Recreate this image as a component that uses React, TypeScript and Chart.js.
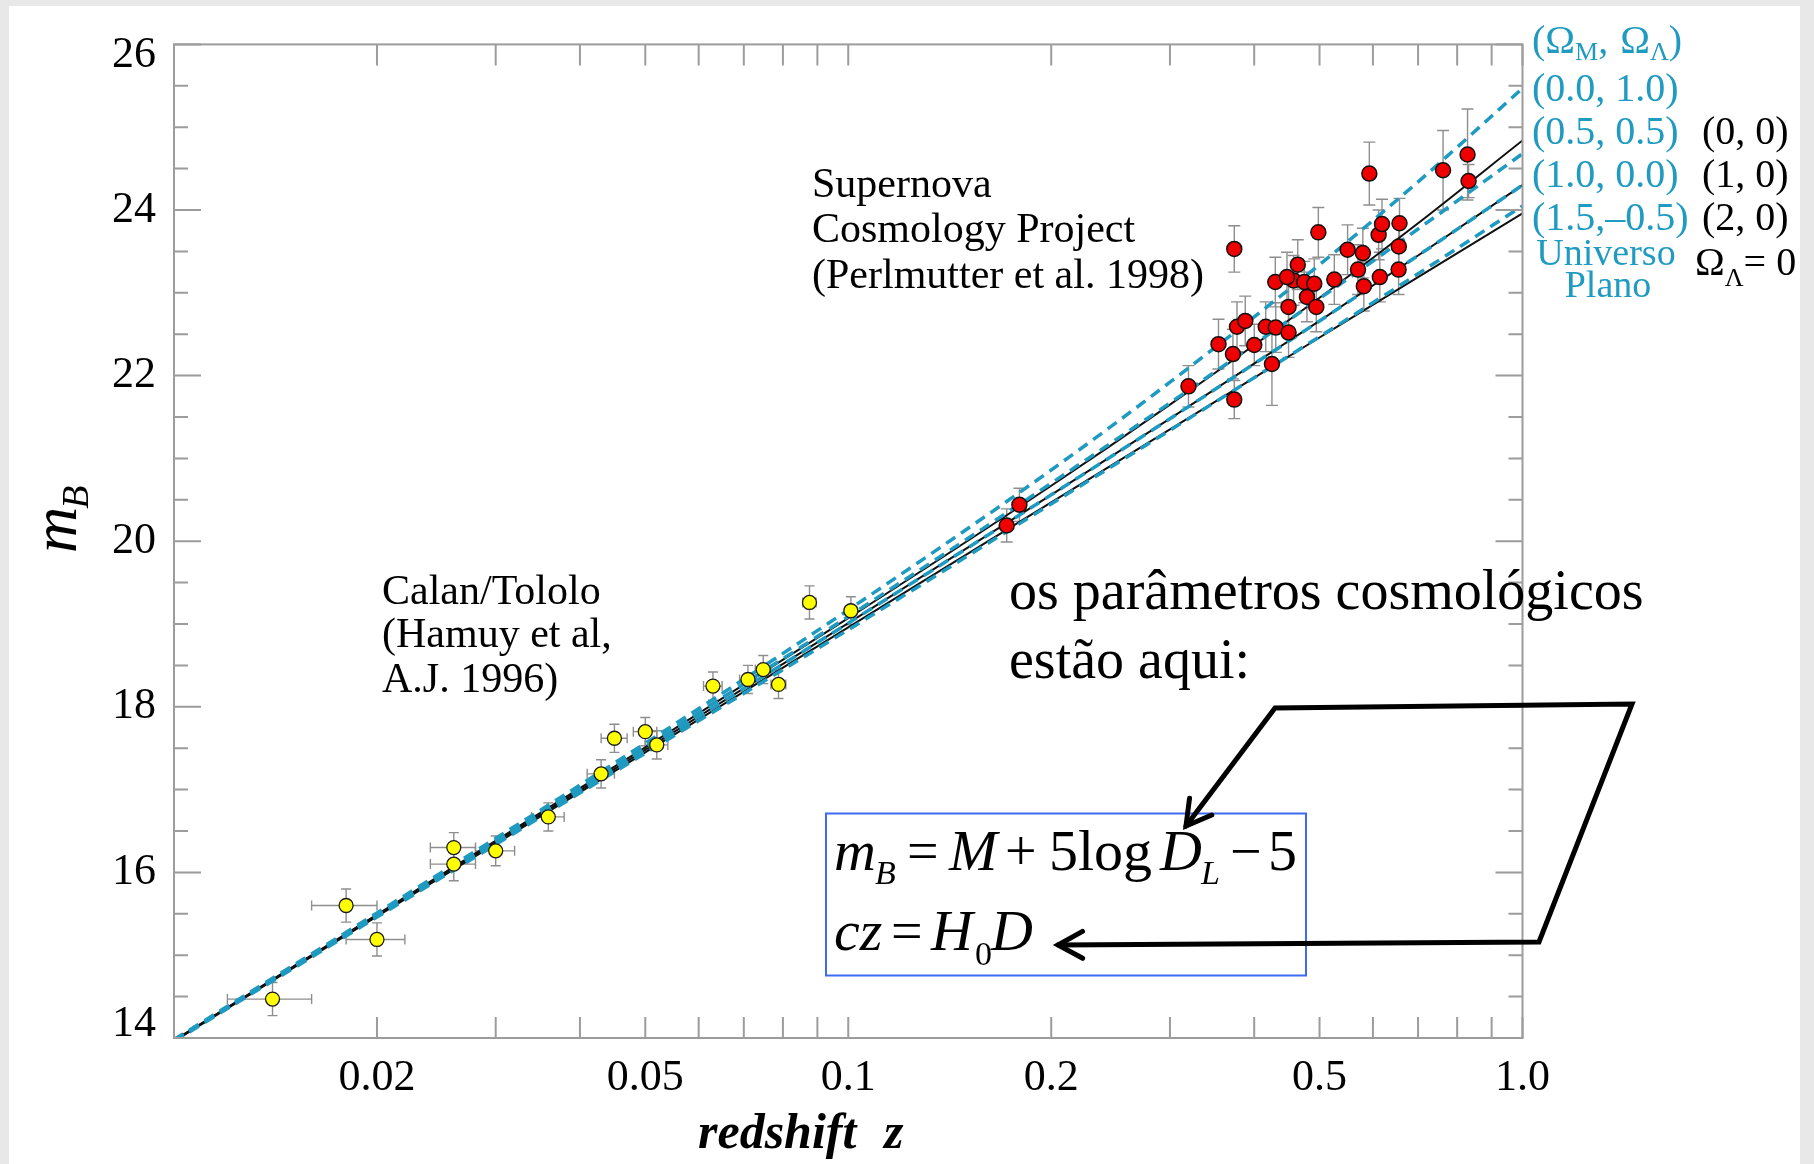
import React, { useEffect, useRef } from 'react';
import { Chart, registerables } from 'chart.js';

Chart.register(...registerables);

// ---------------- data ----------------
const modelZ = [0.01, 0.02, 0.05, 0.1, 0.2, 0.3, 0.5, 0.7, 1.0];
// flat universes (cyan dashed)
const mFlat_0_1 = [13.98, 15.51, 17.56, 19.17, 20.86, 21.92, 23.34, 24.34, 25.47];
const mFlat_05_05 = [13.97, 15.49, 17.52, 19.09, 20.7, 21.67, 22.93, 23.77, 24.68];
const mFlat_1_0 = [13.97, 15.48, 17.48, 19.01, 20.56, 21.48, 22.66, 23.45, 24.3];
const mFlat_15_m05 = [13.96, 15.46, 17.44, 18.93, 20.45, 21.34, 22.47, 23.23, 24.05];
// Omega_Lambda = 0 (black solid)
const mL0_0 = [13.97, 15.49, 17.51, 19.07, 20.67, 21.65, 22.94, 23.84, 24.84];
const mL0_1 = [13.97, 15.48, 17.48, 19.01, 20.56, 21.48, 22.66, 23.45, 24.3];
const mL0_2 = [13.96, 15.47, 17.45, 18.96, 20.47, 21.35, 22.46, 23.19, 23.96];

// Calan/Tololo (Hamuy et al. 1996)
const calanZ = [0.014, 0.018, 0.02, 0.026, 0.026, 0.03, 0.0359, 0.043, 0.045, 0.05, 0.052, 0.063, 0.071, 0.0748, 0.0788, 0.0876, 0.1009];
const calanM = [14.47, 15.6, 15.19, 16.3, 16.1, 16.26, 16.67, 17.19, 17.62, 17.7, 17.54, 18.25, 18.33, 18.45, 18.27, 19.26, 19.16];
const calanErrM = [0.2, 0.2, 0.2, 0.18, 0.2, 0.18, 0.17, 0.17, 0.17, 0.17, 0.17, 0.17, 0.17, 0.17, 0.17, 0.2, 0.17];
const calanErrZ = [0.002, 0.002, 0.002, 0.002, 0.002, 0.002, 0.002, 0.002, 0.002, 0.002, 0.002, 0.002, 0.002, 0.002, 0.002, 0.002, 0.002];

// Supernova Cosmology Project (Perlmutter et al. 1998)
const scpZ = [0.1718, 0.1794, 0.3196, 0.3737, 0.3737, 0.3541, 0.372, 0.3772, 0.388, 0.4001, 0.4161, 0.4306, 0.4498, 0.425, 0.4299, 0.4498, 0.4576, 0.4642, 0.4474, 0.4746, 0.4911, 0.479, 0.4945, 0.498, 0.5259, 0.5503, 0.5797, 0.5702, 0.5817, 0.5927, 0.6143, 0.6118, 0.6189, 0.657, 0.6555, 0.655, 0.7624, 0.8289, 0.8318];
const scpM = [20.19, 20.44, 21.87, 21.71, 23.53, 22.38, 22.26, 22.59, 22.66, 22.37, 22.59, 22.58, 22.52, 22.14, 23.13, 22.83, 23.15, 23.34, 23.19, 23.13, 23.11, 22.95, 22.83, 23.73, 23.16, 23.52, 23.48, 23.28, 23.08, 24.44, 23.19, 23.7, 23.83, 23.84, 23.56, 23.28, 24.48, 24.67, 24.35];
const scpErrM = [0.2, 0.2, 0.25, 0.23, 0.28, 0.3, 0.3, 0.3, 0.3, 0.25, 0.3, 0.3, 0.3, 0.5, 0.3, 0.3, 0.3, 0.3, 0.3, 0.25, 0.3, 0.3, 0.3, 0.3, 0.3, 0.3, 0.3, 0.3, 0.3, 0.38, 0.3, 0.3, 0.3, 0.3, 0.3, 0.3, 0.48, 0.55, 0.2];

// axes
const xMin = 0.01;
const xMax = 1.0;
const yMin = 14;
const yMax = 26;
const xTickValues = [0.02, 0.03, 0.04, 0.05, 0.06, 0.07, 0.08, 0.09, 0.1, 0.2, 0.3, 0.4, 0.5, 0.6, 0.7, 0.8, 0.9, 1.0];
const xTickLabels = ['0.02', '0.05', '0.1', '0.2', '0.5', '1.0'];
const yTickValues = [14, 14.5, 15, 15.5, 16, 16.5, 17, 17.5, 18, 18.5, 19, 19.5, 20, 20.5, 21, 21.5, 22, 22.5, 23, 23.5, 24, 24.5, 25, 25.5, 26];
const yTickLabels = ['14', '16', '18', '20', '22', '24', '26'];

// ---------------- styles ----------------
const SERIF = '"Liberation Serif", "Times New Roman", serif';
const AXIS_GRAY = '#9c9c9c';
const CYAN = '#1f9ac1';
const TEXT = '#000000';

const pts = (xs: number[], ys: number[]) => xs.map((x, i) => ({ x, y: ys[i] }));

function drawSegs(ctx: CanvasRenderingContext2D, x: number, y: number, segs: any[]) {
  let cx = x;
  for (const s of segs) {
    ctx.font = `${s.style || ''} ${s.size}px ${SERIF}`;
    cx += s.dx || 0;
    ctx.fillText(s.t, cx, y + (s.dy || 0));
    cx += ctx.measureText(s.t).width;
  }
  return cx;
}

function arrowHead(ctx: CanvasRenderingContext2D, fx: number, fy: number, tx: number, ty: number, len: number, ang: number) {
  const a = Math.atan2(ty - fy, tx - fx);
  ctx.beginPath();
  ctx.moveTo(tx + len * Math.cos(a + Math.PI - ang), ty + len * Math.sin(a + Math.PI - ang));
  ctx.lineTo(tx, ty);
  ctx.lineTo(tx + len * Math.cos(a + Math.PI + ang), ty + len * Math.sin(a + Math.PI + ang));
  ctx.stroke();
}

const backgroundPlugin = {
  id: 'bg',
  beforeDraw(chart: any) {
    const ctx = chart.ctx;
    ctx.save();
    ctx.fillStyle = '#e8e8e8';
    ctx.fillRect(0, 0, chart.width, chart.height);
    ctx.fillStyle = '#ffffff';
    ctx.fillRect(9, 6, 1800 - 9, chart.height - 6);
    ctx.restore();
  },
};

const errorBarPlugin = {
  id: 'errorBars',
  beforeDatasetsDraw(chart: any) {
    const ctx = chart.ctx;
    const xs = chart.scales.x;
    const ys = chart.scales.y;
    const ca = chart.chartArea;
    ctx.save();
    ctx.beginPath();
    ctx.rect(ca.left, ca.top, ca.right - ca.left, ca.bottom - ca.top);
    ctx.clip();
    ctx.strokeStyle = '#8e8e8e';
    ctx.lineWidth = 1.4;
    chart.data.datasets.forEach((ds: any) => {
      if (!ds.errY) return;
      const cap = ds.capHalf || 5;
      ds.data.forEach((p: any, i: number) => {
        const px = xs.getPixelForValue(p.x);
        const py = ys.getPixelForValue(p.y);
        const e = ds.errY[i];
        const y1 = ys.getPixelForValue(p.y + e);
        const y2 = ys.getPixelForValue(p.y - e);
        ctx.beginPath();
        ctx.moveTo(px, y1); ctx.lineTo(px, y2);
        ctx.moveTo(px - cap, y1); ctx.lineTo(px + cap, y1);
        ctx.moveTo(px - cap, y2); ctx.lineTo(px + cap, y2);
        if (ds.errX) {
          const ex = ds.errX[i];
          const x1 = xs.getPixelForValue(p.x - ex);
          const x2 = xs.getPixelForValue(p.x + ex);
          ctx.moveTo(x1, py); ctx.lineTo(x2, py);
          ctx.moveTo(x1, py - cap); ctx.lineTo(x1, py + cap);
          ctx.moveTo(x2, py - cap); ctx.lineTo(x2, py + cap);
        }
        ctx.stroke();
      });
    });
    ctx.restore();
  },
};

const framePlugin = {
  id: 'frame',
  afterDatasetsDraw(chart: any) {
    const ctx = chart.ctx;
    const xs = chart.scales.x;
    const ys = chart.scales.y;
    const { left, right, top, bottom } = chart.chartArea;
    ctx.save();
    ctx.strokeStyle = AXIS_GRAY;
    ctx.lineWidth = 2;
    ctx.strokeRect(left, top, right - left, bottom - top);
    ctx.beginPath();
    for (const v of xTickValues) {
      const px = xs.getPixelForValue(v);
      ctx.moveTo(px, bottom); ctx.lineTo(px, bottom - 21);
      ctx.moveTo(px, top); ctx.lineTo(px, top + 21);
    }
    for (const v of yTickValues) {
      const py = ys.getPixelForValue(v);
      const len = yTickLabels.includes(String(v)) ? 27 : 14;
      ctx.moveTo(left, py); ctx.lineTo(left + len, py);
      ctx.moveTo(right, py); ctx.lineTo(right - len, py);
    }
    ctx.stroke();

    // y tick labels (end labels nudged inside the frame as in the original)
    ctx.fillStyle = TEXT;
    ctx.font = `44px ${SERIF}`;
    ctx.textAlign = 'right';
    ctx.textBaseline = 'middle';
    for (const l of yTickLabels) {
      const v = parseFloat(l);
      let py = ys.getPixelForValue(v);
      if (v === yMax) py += 11;
      if (v === yMin) py -= 14;
      ctx.fillText(l, left - 18, py);
    }
    ctx.restore();
  },
};

const annotationPlugin = {
  id: 'annotations',
  afterDraw(chart: any) {
    const ctx = chart.ctx;
    ctx.save();
    ctx.textAlign = 'left';
    ctx.textBaseline = 'alphabetic';

    // axis titles
    ctx.fillStyle = TEXT;
    ctx.font = `italic bold 50px ${SERIF}`;
    ctx.fillText('redshift', 698, 1148);
    ctx.fillText('z', 884, 1148);

    ctx.save();
    ctx.translate(76, 553);
    ctx.rotate(-Math.PI / 2);
    ctx.font = `italic 64px ${SERIF}`;
    ctx.fillText('m', 0, 0);
    const mw = ctx.measureText('m').width;
    ctx.font = `italic 38px ${SERIF}`;
    ctx.fillText('B', mw - 2, 12);
    ctx.restore();

    // data set annotations
    ctx.font = `42px ${SERIF}`;
    ctx.fillText('Supernova', 812, 197);
    ctx.fillText('Cosmology Project', 812, 242);
    ctx.fillText('(Perlmutter et al. 1998)', 812, 288);
    ctx.fillText('Calan/Tololo', 382, 604);
    ctx.fillText('(Hamuy et al,', 382, 647);
    ctx.fillText('A.J. 1996)', 382, 692);

    // right-side legend (cyan)
    ctx.fillStyle = CYAN;
    drawSegs(ctx, 1532, 53, [
      { t: '(Ω', size: 40 },
      { t: 'M', size: 26, dy: 7 },
      { t: ', ', size: 40 },
      { t: 'Ω', size: 40, dx: 2 },
      { t: 'Λ', size: 26, dy: 7 },
      { t: ')', size: 40 },
    ]);
    ctx.font = `40px ${SERIF}`;
    ctx.fillText('(0.0, 1.0)', 1532, 101);
    ctx.fillText('(0.5, 0.5)', 1532, 144);
    ctx.fillText('(1.0, 0.0)', 1532, 187);
    ctx.fillText('(1.5,–0.5)', 1532, 230);
    ctx.font = `38px ${SERIF}`;
    ctx.textAlign = 'center';
    ctx.fillText('Universo', 1606, 265);
    ctx.fillText('Plano', 1608, 297);
    ctx.textAlign = 'left';

    // right-side legend (black)
    ctx.fillStyle = TEXT;
    ctx.font = `40px ${SERIF}`;
    ctx.fillText('(0, 0)', 1702, 144);
    ctx.fillText('(1, 0)', 1702, 187);
    ctx.fillText('(2, 0)', 1702, 230);
    drawSegs(ctx, 1695, 275, [
      { t: 'Ω', size: 40 },
      { t: 'Λ', size: 26, dy: 11 },
      { t: '= 0', size: 40 },
    ]);

    // Portuguese note
    ctx.fillStyle = '#000';
    ctx.font = `56px ${SERIF}`;
    ctx.fillText('os parâmetros cosmológicos', 1009, 609);
    ctx.fillText('estão aqui:', 1009, 678);

    // formula box
    ctx.strokeStyle = '#3d6cf2';
    ctx.lineWidth = 2;
    ctx.strokeRect(826, 813.5, 480, 162);
    ctx.fillStyle = '#000';
    const it = (s: number) => `italic ${s}px ${SERIF}`;
    const rm = (s: number) => `${s}px ${SERIF}`;
    const put = (t: string, f: string, x: number, y: number) => { ctx.font = f; ctx.fillText(t, x, y); };
    put('m', it(58), 834, 870);
    put('B', it(34), 875, 884);
    put('=', rm(56), 907, 870);
    put('M', it(58), 949, 870);
    put('+', rm(56), 1005, 870);
    put('5', rm(58), 1049, 870);
    put('log', rm(58), 1078, 870);
    put('D', it(58), 1160, 870);
    put('L', it(34), 1201, 884);
    put('−', rm(56), 1230, 870);
    put('5', rm(58), 1268, 870);
    put('cz', it(58), 834, 950);
    put('=', rm(56), 891, 950);
    put('H', it(58), 931, 950);
    put('0', rm(34), 975, 965);
    put('D', it(58), 991, 950);

    // arrows
    ctx.strokeStyle = '#000';
    ctx.lineWidth = 5;
    ctx.lineJoin = 'miter';
    ctx.lineCap = 'round';
    ctx.beginPath();
    ctx.moveTo(1186, 826);
    ctx.lineTo(1275, 708);
    ctx.lineTo(1632, 704);
    ctx.lineTo(1539, 942);
    ctx.lineTo(1058, 945);
    ctx.stroke();
    arrowHead(ctx, 1275, 708, 1186, 826, 28, 0.52);
    arrowHead(ctx, 1539, 942, 1058, 945, 28, 0.5);

    ctx.restore();
  },
};

const lineDs = (label: string, ys: number[], color: string, width: number, dash: number[], order: number) => ({
  label,
  data: pts(modelZ, ys),
  showLine: true,
  borderColor: color,
  backgroundColor: color,
  borderWidth: width,
  borderDash: dash,
  pointRadius: 0,
  pointHoverRadius: 0,
  cubicInterpolationMode: 'monotone',
  fill: false,
  order,
});

export default function App() {
  const ref = useRef<HTMLCanvasElement>(null);

  useEffect(() => {
    document.body.style.margin = '0';
    document.body.style.overflow = 'hidden';
    const canvas = ref.current as HTMLCanvasElement;

    const xLabelFor = (v: number) => {
      const l = xTickLabels.find((s) => Math.abs(parseFloat(s) - v) < 1e-9);
      return l ?? '';
    };

    const chart = new Chart(canvas, {
      type: 'scatter',
      data: {
        datasets: [
          {
            label: 'Calan/Tololo',
            data: pts(calanZ, calanM),
            errY: calanErrM,
            errX: calanErrZ,
            capHalf: 5,
            pointRadius: 7,
            pointBackgroundColor: '#ffff00',
            pointBorderColor: '#1a1a1a',
            pointBorderWidth: 1.3,
            order: 0,
          } as any,
          {
            label: 'Supernova Cosmology Project',
            data: pts(scpZ, scpM),
            errY: scpErrM,
            capHalf: 6,
            pointRadius: 7.5,
            pointBackgroundColor: '#ee0000',
            pointBorderColor: '#111111',
            pointBorderWidth: 1.5,
            order: 0,
          } as any,
          lineDs('(0.0, 1.0)', mFlat_0_1, CYAN, 3.5, [11, 7], 1),
          lineDs('(0.5, 0.5)', mFlat_05_05, CYAN, 3.5, [11, 7], 1),
          lineDs('(1.0, 0.0)', mFlat_1_0, CYAN, 3.5, [11, 7], 1),
          lineDs('(1.5, -0.5)', mFlat_15_m05, CYAN, 3.5, [11, 7], 1),
          lineDs('(0, 0)', mL0_0, '#111111', 2, [], 2),
          lineDs('(1, 0)', mL0_1, '#111111', 2, [], 2),
          lineDs('(2, 0)', mL0_2, '#111111', 2, [], 2),
        ] as any,
      },
      options: {
        animation: false,
        responsive: false,
        devicePixelRatio: 1,
        events: [],
        layout: { padding: { left: 0, top: 43.5, right: 291.5, bottom: 0 } },
        plugins: {
          legend: { display: false },
          tooltip: { enabled: false },
          title: { display: false },
        },
        scales: {
          x: {
            type: 'logarithmic',
            position: 'bottom',
            min: xMin,
            max: xMax,
            afterBuildTicks: (s: any) => {
              s.ticks = xTickValues.map((v) => ({ value: v }));
            },
            afterFit: (s: any) => {
              s.height = 126;
            },
            grid: { display: false, drawTicks: false },
            border: { display: false },
            ticks: {
              autoSkip: false,
              maxRotation: 0,
              minRotation: 0,
              padding: 14,
              color: TEXT,
              font: { family: SERIF, size: 44, lineHeight: 1.2 },
              callback: (v: any) => xLabelFor(Number(v)),
            },
          },
          y: {
            type: 'linear',
            min: yMin,
            max: yMax,
            afterBuildTicks: (s: any) => {
              s.ticks = yTickValues.map((v) => ({ value: v }));
            },
            afterFit: (s: any) => {
              s.width = 174;
            },
            grid: { display: false, drawTicks: false },
            border: { display: false },
            ticks: {
              autoSkip: false,
              padding: 18,
              color: TEXT,
              font: { family: SERIF, size: 44, lineHeight: 1.2 },
              callback: () => '',
            },
          },
        },
      } as any,
      plugins: [backgroundPlugin, errorBarPlugin, framePlugin, annotationPlugin],
    });

    return () => chart.destroy();
  }, []);

  return (
    <canvas
      ref={ref}
      width={1814}
      height={1164}
      style={{ display: 'block', width: '1814px', height: '1164px' }}
    />
  );
}
